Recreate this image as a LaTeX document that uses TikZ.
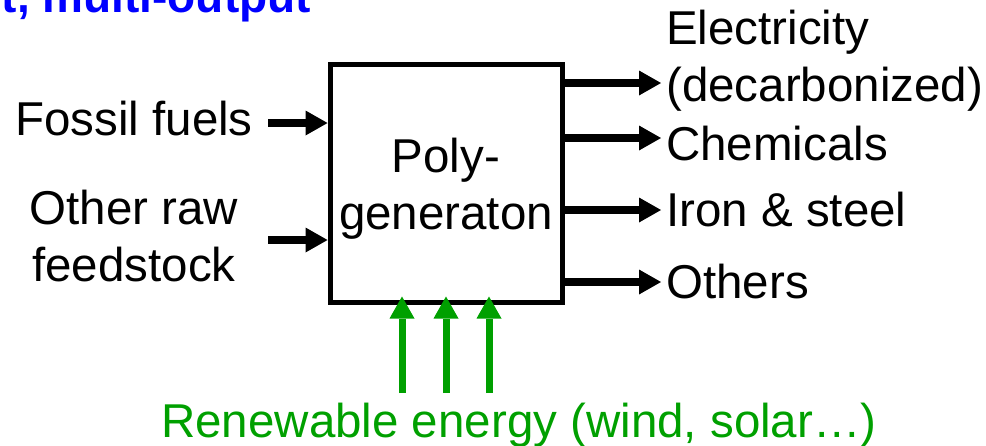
\documentclass[tikz,border=0pt]{standalone}
\usepackage{fontspec}
\setmainfont{Liberation Sans}
\usetikzlibrary{arrows.meta}
\definecolor{renewgreen}{RGB}{0,160,0}
\definecolor{titleblue}{RGB}{0,0,255}
\tikzset{
	lbl/.style = {inner sep = 0pt, font = \fontsize{47.5}{57}\selectfont},
	flow/.style = {line width = 8pt, -{Triangle[width = 25pt, length = 22pt, line width = 0pt]}},
	renew/.style = {flow, line width = 7pt, draw = renewgreen, shorten > = -8pt}
}

\begin{document}
\begin{tikzpicture}[x = 1pt, y = -1pt]
		\useasboundingbox (0,0) rectangle (986,445);
		\node (title)[lbl, font = \fontsize{46}{55}\selectfont\bfseries, text = titleblue, anchor = base east] at (311,12.5){Multi-input, multi-output};
		%
		\node (box)[draw, line width = 5pt, minimum width = 232pt, minimum height = 238pt, inner sep = 0pt] at (446,183){};
		\node (poly)[lbl, align = center, anchor = north] at (446,138){Poly-\\generaton};
		%
		\node (fossil)[lbl, anchor = base east] at (253,135){Fossil fuels};
		\node (raw)[lbl, align = center, anchor = north] at (134,189.5){Other raw\\feedstock};
		\coordinate (fossilin) at (268,123);
		\coordinate (rawin) at (268,240);
		\draw [flow] (fossilin) -- (fossilin -| box.west);
		\draw [flow] (rawin) -- (rawin -| box.west);
		%
		\node (elec)[lbl, align = left, anchor = north west] at (666,10){Electricity\\(decarbonized)};
		\node (chem)[lbl, anchor = base west] at (666,160){Chemicals};
		\node (iron)[lbl, anchor = base west] at (666,226){Iron \& steel};
		\node (others)[lbl, anchor = base west] at (666,298){Others};
		\coordinate (elecout) at (661,83);
		\coordinate (chemout) at (661,138);
		\coordinate (ironout) at (661,210);
		\coordinate (othersout) at (661,282);
		\foreach \out in {elecout,chemout,ironout,othersout}
			\draw [flow] (box.east |- \out) -- (\out);
		%
		\node (renewable)[lbl, text = renewgreen, anchor = base west] at (161,437){Renewable energy (wind, solar…)};
		\foreach \gx [count = \i] in {402,446,489}{
			\coordinate (re\i) at (\gx,393);
			\draw [renew] (re\i) -- (re\i |- box.south);
		}
	\end{tikzpicture}
\end{document}
